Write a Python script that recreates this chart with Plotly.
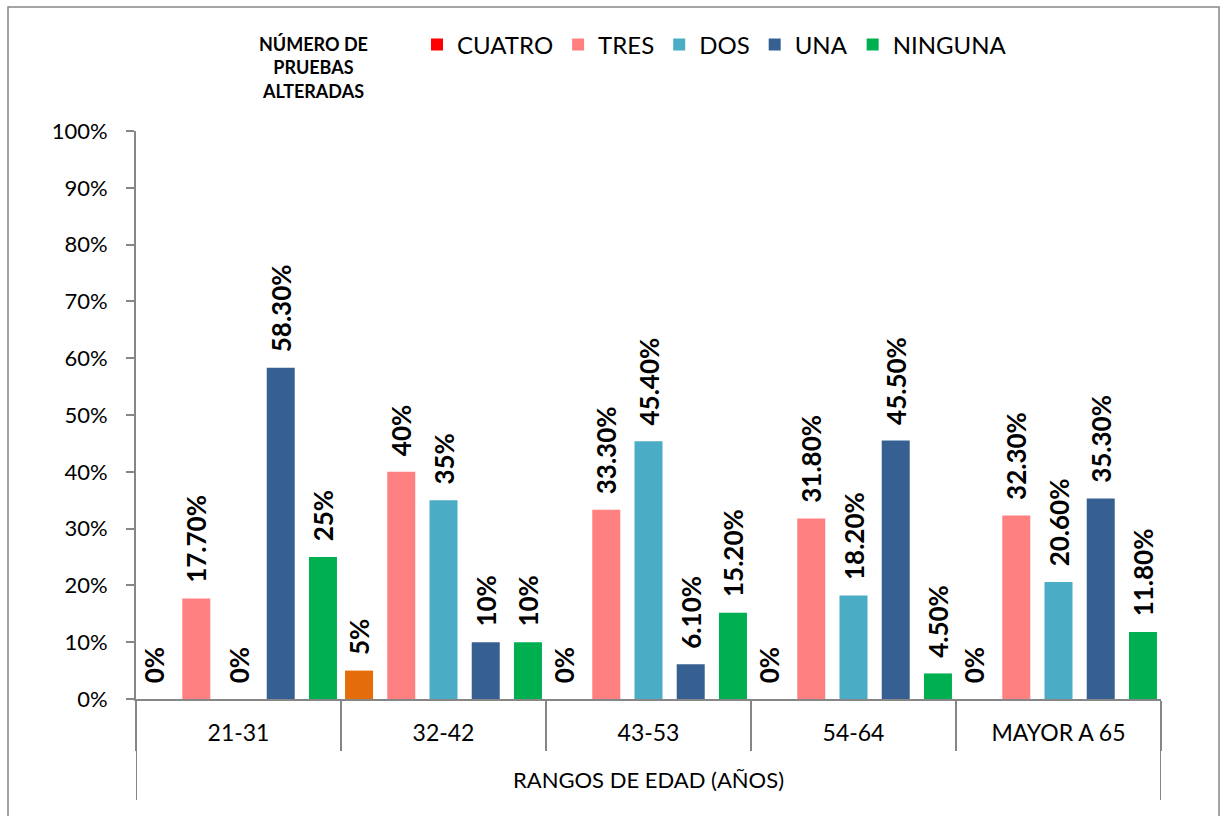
import plotly.graph_objects as go

categories = ["21-31", "32-42", "43-53", "54-64", "MAYOR A 65"]
series_names = ["CUATRO", "TRES", "DOS", "UNA", "NINGUNA"]
cuatro = [0, 5, 0, 0, 0]
tres = [17.7, 40, 33.3, 31.8, 32.3]
dos = [0, 35, 45.4, 18.2, 20.6]
una = [58.3, 10, 6.1, 45.5, 35.3]
ninguna = [25, 10, 15.2, 4.5, 11.8]
y_ticks = [0, 10, 20, 30, 40, 50, 60, 70, 80, 90, 100]

series_values = [cuatro, tres, dos, una, ninguna]
series_colors = [
    ["#FF0000", "#E46C0A", "#FF0000", "#FF0000", "#FF0000"],
    "#FF8080", "#4BACC6", "#366092", "#00B050",
]

FONT = "Lato"
W, H = 1224, 816
L, R, T, B = 136, 1161, 131, 699   # plot area in px
pw, ph = R - L, B - T


def fmt(v):
    return f"{v:.0f}%" if float(v).is_integer() else f"{v:.2f}%"


fig = go.Figure()
n = len(series_names)
bar_w = 0.1366
slot = 0.206
for k, (name, vals, col) in enumerate(zip(series_names, series_values, series_colors)):
    fig.add_trace(go.Bar(
        name=name, x=categories, y=vals,
        marker=dict(color=col, line=dict(width=0)),
        width=bar_w, offset=(k - (n - 1) / 2) * slot - bar_w / 2,
        text=["\u00a0\u00a0" + fmt(v) for v in vals],
        textposition="outside", textangle=-90, constraintext="none",
        textfont=dict(family=FONT, size=26, color="black", weight="bold"),
        cliponaxis=False,
    ))

axis_gray = "#868686"
fig.update_layout(
    width=W, height=H,
    margin=dict(l=L, r=W - R, t=T, b=H - B, pad=0),
    barmode="overlay",
    plot_bgcolor="white", paper_bgcolor="white",
    font=dict(family=FONT, color="black"),
    showlegend=True,
    legend=dict(orientation="h", x=(417 - L) / pw, xanchor="left",
                y=1 + (T - 45) / ph, yanchor="middle",
                font=dict(family=FONT, size=24, color="black"),
                itemclick=False, traceorder="normal"),
    xaxis=dict(
        type="category", showgrid=False, showline=True, linecolor=axis_gray, linewidth=2,
        ticks="outside", tickson="boundaries", ticklen=50, tickcolor=axis_gray, tickwidth=2,
        tickfont=dict(family=FONT, size=23, color="black"),
        ticklabelstandoff=12,
        title=dict(text="RANGOS DE EDAD (AÑOS)", font=dict(family=FONT, size=22, color="black"),
                   standoff=28),
        range=[-0.5, len(categories) - 0.5],
    ),
    yaxis=dict(
        range=[0, 100], tickvals=y_ticks, ticktext=[f"{t}%" for t in y_ticks],
        showgrid=False, zeroline=False, showline=True, linecolor=axis_gray, linewidth=2,
        ticks="outside", ticklen=8, tickcolor=axis_gray, tickwidth=2,
        tickfont=dict(family=FONT, size=22, color="black"),
        ticklabelstandoff=14,
    ),
)

# outer vertical lines of the category axis
outer_bottom = -(800 - B) / ph
for xv in [-0.5, len(categories) - 0.5]:
    fig.add_shape(type="line", xref="x", yref="paper", x0=xv, x1=xv, y0=0, y1=outer_bottom,
                  line=dict(color=axis_gray, width=2))

# chart border
fig.add_shape(type="rect", xref="paper", yref="paper",
              x0=(8 - L) / pw, x1=(1219 - L) / pw,
              y0=(B - 830) / ph, y1=1 + (T - 7) / ph,
              line=dict(color=axis_gray, width=1.5), fillcolor="rgba(0,0,0,0)", layer="below")

# legend title
fig.add_annotation(xref="paper", yref="paper", x=(313 - L) / pw, y=1 + (T - 68) / ph,
                   text="NÚMERO DE<br>PRUEBAS<br>ALTERADAS", showarrow=False,
                   font=dict(family=FONT, size=18, color="black", weight="bold"),
                   align="center", xanchor="center", yanchor="middle")

fig.write_html("out.html")
